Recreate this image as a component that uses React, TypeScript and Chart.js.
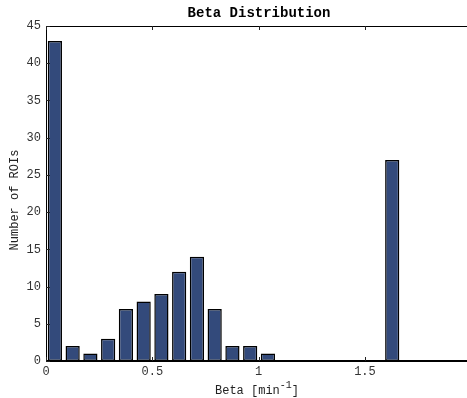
import React, { useEffect, useRef } from "react";
import { Chart, registerables } from "chart.js";

Chart.register(...registerables);

// Histogram bin centres (min^-1) and ROI counts per bin
const binCenters = [
  0.0418, 0.1253, 0.2088, 0.2923, 0.3758, 0.4593, 0.5428, 0.6263, 0.7098, 0.7933,
  0.8768, 0.9603, 1.0438, 1.1273, 1.2108, 1.2943, 1.3778, 1.4613, 1.5448, 1.6283,
];
const roiCounts = [43, 2, 1, 3, 7, 8, 9, 12, 14, 7, 2, 2, 1, 0, 0, 0, 0, 0, 0, 27];

const xTickValues = [0, 0.5, 1, 1.5];
const yTickValues = [0, 5, 10, 15, 20, 25, 30, 35, 40, 45];

const titleText = "Beta Distribution";
const yLabelText = "Number of ROIs";
const xLabelMain = "Beta [min";
const xLabelSup = "-1";
const xLabelEnd = "]";

const MONO = "'Liberation Mono', 'DejaVu Sans Mono', monospace";

// Frame, inward tick marks and the text around the axes
const framePlugin = {
  id: "frame",
  afterDraw(chart: any) {
    const { ctx, chartArea } = chart;
    const { left, right, top, bottom } = chartArea;
    const xs = chart.scales.x;
    const ys = chart.scales.y;
    ctx.save();
    ctx.strokeStyle = "#000";
    ctx.lineWidth = 1;
    ctx.beginPath();
    // left and top edges
    ctx.moveTo(left + 0.5, bottom);
    ctx.lineTo(left + 0.5, top + 0.5);
    ctx.lineTo(right, top + 0.5);
    ctx.stroke();
    // baseline
    ctx.lineWidth = 2;
    ctx.beginPath();
    ctx.moveTo(left, bottom);
    ctx.lineTo(right, bottom);
    ctx.stroke();

    // inward ticks
    ctx.lineWidth = 1;
    ctx.strokeStyle = "#222";
    ctx.beginPath();
    const tl = 4;
    for (const v of xTickValues) {
      const px = Math.round(xs.getPixelForValue(v)) + 0.5;
      ctx.moveTo(px, bottom);
      ctx.lineTo(px, bottom - tl);
      ctx.moveTo(px, top);
      ctx.lineTo(px, top + tl);
    }
    for (const v of yTickValues) {
      const py = Math.round(ys.getPixelForValue(v)) + 0.5;
      ctx.moveTo(left, py);
      ctx.lineTo(left + tl, py);
    }
    ctx.stroke();

    // title
    ctx.fillStyle = "#000";
    ctx.font = `bold 14px ${MONO}`;
    ctx.textAlign = "center";
    ctx.textBaseline = "middle";
    ctx.fillText(titleText, 259, 13);

    // y-axis label
    ctx.font = `12px ${MONO}`;
    ctx.fillStyle = "#222";
    ctx.save();
    ctx.translate(15, 200);
    ctx.rotate(-Math.PI / 2);
    ctx.fillText(yLabelText, 0, 0);
    ctx.restore();

    // x-axis label with superscript
    const mainFont = `12px ${MONO}`;
    const supFont = `10px ${MONO}`;
    ctx.font = mainFont;
    const wMain = ctx.measureText(xLabelMain).width;
    const wEnd = ctx.measureText(xLabelEnd).width;
    ctx.font = supFont;
    const wSup = ctx.measureText(xLabelSup).width;
    const total = wMain + wSup + wEnd;
    const cx = 257;
    let x0 = cx - total / 2;
    const yb = 391;
    ctx.textAlign = "left";
    ctx.font = mainFont;
    ctx.fillText(xLabelMain, x0, yb);
    x0 += wMain;
    ctx.font = supFont;
    ctx.fillText(xLabelSup, x0, yb - 6);
    x0 += wSup;
    ctx.font = mainFont;
    ctx.fillText(xLabelEnd, x0, yb);
    ctx.restore();
  },
};

export default function App() {
  const canvasRef = useRef<HTMLCanvasElement | null>(null);

  useEffect(() => {
    document.body.style.margin = "0";
    const canvas = canvasRef.current;
    if (!canvas) return;
    const chart = new Chart(canvas, {
      type: "bar",
      data: {
        datasets: [
          {
            data: binCenters.map((x, i) => ({ x, y: roiCounts[i] })),
            backgroundColor: "#334a7b",
            borderColor: "#000",
            borderWidth: 1.5,
            borderSkipped: false,
            barPercentage: 0.8,
            categoryPercentage: 1,
          },
        ],
      },
      options: {
        animation: false,
        responsive: false,
        maintainAspectRatio: false,
        layout: { padding: { top: 26, right: 0, left: 0, bottom: 0 } },
        plugins: {
          legend: { display: false },
          title: { display: false },
          tooltip: { enabled: false },
        },
        scales: {
          x: {
            type: "linear",
            min: 0,
            max: 1.98,
            offset: false,
            grid: { display: false, drawTicks: false },
            border: { display: false },
            afterBuildTicks: (s: any) => {
              s.ticks = xTickValues.map((v) => ({ value: v }));
            },
            afterFit: (s: any) => {
              s.height = 37;
            },
            ticks: {
              padding: 4,
              maxRotation: 0,
              autoSkip: false,
              color: "#333",
              font: { family: MONO, size: 12 },
              callback: (v: any) => String(v),
            },
          },
          y: {
            min: 0,
            max: 45,
            grid: { display: false, drawTicks: false },
            border: { display: false },
            afterBuildTicks: (s: any) => {
              s.ticks = yTickValues.map((v) => ({ value: v }));
            },
            afterFit: (s: any) => {
              s.width = 46;
            },
            ticks: {
              padding: 5,
              color: "#333",
              font: { family: MONO, size: 12 },
            },
          },
        },
      },
      plugins: [framePlugin],
    });
    return () => chart.destroy();
  }, []);

  return (
    <div style={{ position: "relative", width: 467, height: 398 }}>
      <canvas ref={canvasRef} width={467} height={398} style={{ display: "block" }} />
    </div>
  );
}
